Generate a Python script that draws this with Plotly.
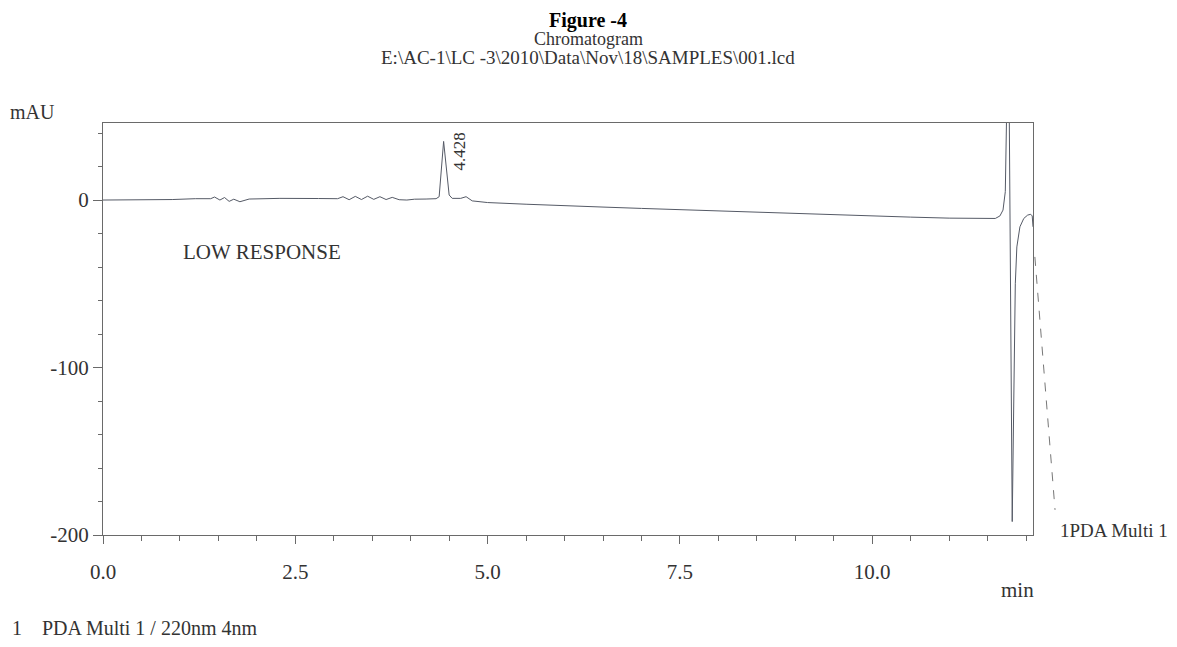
import plotly.graph_objects as go

# Retention time (min) and detector response (mAU)
time_min = [0.00, 0.50, 0.90, 1.20, 1.40, 1.45, 1.52, 1.58, 1.64, 1.70, 1.78, 1.90,
            2.30, 2.80, 3.05, 3.12, 3.20, 3.28, 3.36, 3.44, 3.52, 3.60, 3.68, 3.76,
            3.85, 3.95, 4.05, 4.20, 4.33, 4.37, 4.428, 4.50, 4.54, 4.65, 4.72, 4.80,
            5.00, 5.50, 6.00, 6.50, 7.00, 7.50, 8.00, 8.50, 9.00, 9.50, 10.00, 10.50,
            11.00, 11.40, 11.60, 11.66, 11.70, 11.73, 11.75, 11.78, 11.80, 11.82,
            11.84, 11.86, 11.88, 11.92, 11.97, 12.02, 12.06, 12.08, 12.09]
response_mau = [0.0, 0.0, 0.3, 0.8, 0.8, 1.8, 0.0, 1.5, -0.8, 0.5, -1.0, 0.6,
                1.0, 0.9, 0.8, 2.0, 0.2, 2.2, 0.3, 2.3, 0.4, 2.0, 0.3, 1.6,
                0.2, 0.0, 0.5, 0.6, 0.8, 2.0, 35.0, 3.0, 1.0, 1.0, 2.0, -0.5,
                -1.5, -2.5, -3.5, -4.2, -5.0, -5.8, -6.5, -7.2, -8.0, -8.8, -9.5, -10.2,
                -10.8, -11.2, -11.0, -9.5, -6.0, 5.0, 60.0, 60.0, -60.0, -192.0,
                -120.0, -50.0, -28.0, -16.0, -11.0, -9.0, -8.5, -9.5, -16.0]

peak_time = 4.428
peak_label = "4.428"
x_ticks = [0.0, 2.5, 5.0, 7.5, 10.0]
x_tick_text = ["0.0", "2.5", "5.0", "7.5", "10.0"]
y_ticks = [0, -100, -200]
y_tick_text = ["0", "-100", "-200"]

FONT = "Liberation Serif"
INK = "#333333"
AXIS = "#6a6a6a"

fig = go.Figure()
fig.add_trace(go.Scatter(x=time_min, y=response_mau, mode="lines",
                         line=dict(color="#555a66", width=1), showlegend=False,
                         hoverinfo="x+y"))

# the page body has an 8px default margin, so the figure is sized to compensate
fig.update_layout(
    width=1169, height=639,
    margin=dict(l=95, r=144, t=115, b=112),
    paper_bgcolor="white", plot_bgcolor="white",
    font=dict(family=FONT, color=INK, size=20),
    showlegend=False,
)
fig.update_xaxes(range=[0, 12.09], showgrid=False, zeroline=False,
                 showline=True, linecolor=AXIS, linewidth=1, mirror=True,
                 ticks="outside", ticklen=8, tickcolor=AXIS,
                 tickvals=x_ticks, ticktext=x_tick_text,
                 tickfont=dict(family=FONT, size=21, color=INK),
                 ticklabelstandoff=10,
                 minor=dict(dtick=0.5, ticks="outside", ticklen=5, tickcolor=AXIS))
fig.update_yaxes(range=[-200, 46], showgrid=False, zeroline=False,
                 showline=True, linecolor=AXIS, linewidth=1, mirror=True,
                 ticks="outside", ticklen=9, tickcolor=AXIS,
                 tickvals=y_ticks, ticktext=y_tick_text,
                 tickfont=dict(family=FONT, size=21, color=INK),
                 minor=dict(dtick=20, ticks="outside", ticklen=4, tickcolor=AXIS))

ann = []
ann.append(dict(text="<b>Figure -4</b>", xref="paper", yref="paper", x=0.522, y=1.250,
                showarrow=False, font=dict(size=20, color="black", family=FONT),
                xanchor="center", yanchor="middle"))
ann.append(dict(text="Chromatogram", xref="paper", yref="paper", x=0.522, y=1.204,
                showarrow=False, font=dict(size=18), xanchor="center", yanchor="middle"))
ann.append(dict(text="E:\\AC-1\\LC -3\\2010\\Data\\Nov\\18\\SAMPLES\\001.lcd",
                xref="paper", yref="paper", x=0.522, y=1.158, showarrow=False,
                font=dict(size=19), xanchor="center", yanchor="middle"))
ann.append(dict(text="mAU", xref="paper", yref="paper", x=-0.076, y=1.027,
                showarrow=False, font=dict(size=20), xanchor="center", yanchor="middle"))
ann.append(dict(text="min", xref="paper", yref="paper", x=0.983, y=-0.134,
                showarrow=False, font=dict(size=21), xanchor="center", yanchor="middle"))
ann.append(dict(text="1PDA Multi 1", xref="paper", yref="paper", x=1.027, y=0.01,
                showarrow=False, font=dict(size=19), xanchor="left", yanchor="middle"))
ann.append(dict(text="1", xref="paper", yref="paper", x=-0.1, y=-0.226,
                showarrow=False, font=dict(size=20), xanchor="left", yanchor="middle"))
ann.append(dict(text="PDA Multi 1 / 220nm 4nm", xref="paper", yref="paper", x=-0.068, y=-0.226,
                showarrow=False, font=dict(size=20), xanchor="left", yanchor="middle"))
ann.append(dict(text="LOW RESPONSE", xref="x", yref="y", x=2.07, y=-31,
                showarrow=False, font=dict(size=21), xanchor="center", yanchor="middle"))
ann.append(dict(text=peak_label, xref="x", yref="y", x=peak_time + 0.2, y=29,
                showarrow=False, textangle=-90, font=dict(size=17),
                xanchor="center", yanchor="middle"))
fig.update_layout(annotations=ann)

# dashed leader line to the trace label, outside the plot area
fig.add_shape(type="line", xref="paper", yref="paper", x0=1.002, y0=0.675, x1=1.0237, y1=0.061,
              line=dict(color="#777777", width=1, dash="dash"))

fig.write_html("out.html")
